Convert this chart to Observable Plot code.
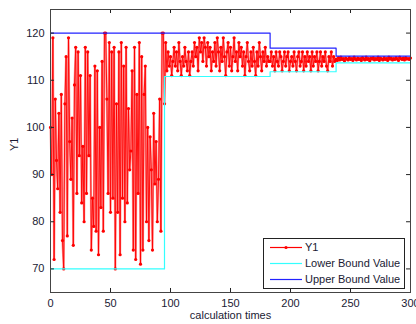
<!DOCTYPE html>
<html>
<head>
<meta charset="utf-8">
<script src="https://cdn.jsdelivr.net/npm/d3@7"></script>
<script src="https://cdn.jsdelivr.net/npm/@observablehq/plot@0.6"></script>
<style>
  html, body { margin: 0; padding: 0; background: #fff; }
  #chart { width: 416px; height: 324px; }
</style>
</head>
<body>
<div id="chart"></div>
<script>
// ---- Data ----
const seg1 = [ // t = 0..95
  100,90,119,72,106,93,87,103,82,107,
  76,70,105,115,77,119,97,89,102,75,
  109,117,86,116,94,111,84,96,80,117,
  86,116,94,111,74,85,79,113,78,112,
  73,100,83,114,78,120,120,106,86,118,
  82,116,85,117,70,105,82,116,73,118,
  85,113,80,117,84,104,91,95,112,74,
  117,72,107,86,118,71,115,74,107,113,
  80,100,76,98,91,74,103,88,97,80,
  89,106,78,120,120,105
];
const seg2 = [ // t = 96..182
  118,112,116,113,115,111,114,117,113,116,
  112,118,114,111,115,113,117,114,112,116,
  111,114,116,113,118,115,117,112,119,116,
  118,114,119,117,113,118,115,117,112,116,
  114,118,113,119,116,112,117,114,119,115,
  111,116,118,113,117,112,115,119,114,116,
  112,118,115,117,113,116,111,115,118,114,
  112,116,113,117,114,111,116,113,118,115,
  112,116,114,117,113,115,114
];
const seg3 = [ // t = 183..237
  114,116,113,115,112,116,114,113,116,115,
  112,114,116,113,115,116,112,114,115,113,
  116,114,112,115,116,113,114,116,112,115,
  113,116,114,115,112,116,113,115,114,116,
  112,114,116,113,115,114,116,113,112,115,
  114,116,113,115,114
];
const seg4 = [ // t = 238..300
  114.5,114.2,114.8,114.3,114.9,114.4,114.6,114.1,114.7,114.5,
  114.3,114.8,114.4,114.6,114.2,114.9,114.5,114.3,114.7,114.4,
  114.6,114.2,114.8,114.5,114.3,114.9,114.4,114.6,114.1,114.7,
  114.5,114.8,114.3,114.6,114.4,114.9,114.2,114.7,114.5,114.3,
  114.8,114.4,114.6,114.2,114.9,114.5,114.7,114.3,114.6,114.4,
  114.8,114.5,114.2,114.9,114.6,114.4,114.7,114.3,114.8,114.5,
  114.6,114.4,114.7
];
const lowerT = [0, 95, 183, 238, 300];
const lowerV = [70, 110.8, 111.8, 113.7, 113.7];
const upperT = [0, 183, 238, 300];
const upperV = [120, 116.8, 115.1, 115.1];
const xTicks = [0, 50, 100, 150, 200, 250, 300];
const yTicks = [70, 80, 90, 100, 110, 120];
const seriesNames = ["Y1", "Lower Bound Value", "Upper Bound Value"];
const xLabel = "calculation times";
const yLabel = "Y1";

// ---- Build tables ----
const y1 = [...seg1, ...seg2, ...seg3, ...seg4].map((v, i) => ({t: i, v}));
const lower = lowerT.map((t, i) => ({t, v: lowerV[i]}));
const upper = upperT.map((t, i) => ({t, v: upperV[i]}));

const font = "'Liberation Sans', Arial, sans-serif";
const tickLenY = 0.85;  // data units (~4px)
const tickLenX = 3.3;

const chart = Plot.plot({
  width: 416,
  height: 324,
  marginLeft: 50,
  marginRight: 6,
  marginTop: 9,
  marginBottom: 32,
  style: {fontFamily: font, fontSize: "11px", color: "#222", background: "#fff"},
  x: {domain: [0, 300]},
  y: {domain: [65, 125]},
  marks: [
    Plot.line(y1, {x: "t", y: "v", stroke: "#ff9a9a", strokeWidth: 2.2}),
    Plot.line(y1, {x: "t", y: "v", stroke: "#ff0000", strokeWidth: 0.9}),
    Plot.dot(y1, {x: "t", y: "v", r: 1.6, fill: "#ff0000", stroke: "none"}),
    Plot.line(lower, {x: "t", y: "v", curve: "step-after", stroke: "#33ffff", strokeWidth: 1.2}),
    Plot.line(upper, {x: "t", y: "v", curve: "step-after", stroke: "#2222ff", strokeWidth: 1.2}),
    Plot.ruleX(xTicks, {x: d => d, y1: 65, y2: 65 + tickLenY, stroke: "#222"}),
    Plot.ruleX(xTicks, {x: d => d, y1: 125, y2: 125 - tickLenY, stroke: "#222"}),
    Plot.ruleY(yTicks, {y: d => d, x1: 0, x2: tickLenX, stroke: "#222"}),
    Plot.ruleY(yTicks, {y: d => d, x1: 300, x2: 300 - tickLenX, stroke: "#222"}),
    Plot.frame({stroke: "#444", strokeWidth: 1}),
    Plot.axisX({ticks: xTicks, tickSize: 0, tickPadding: 7, label: null, fill: "#1a1a33"}),
    Plot.axisY({ticks: yTicks, tickSize: 0, tickPadding: 6, label: null, fill: "#1a1a33"}),
    Plot.text([xLabel], {frameAnchor: "bottom", dy: 26, fill: "#1a1a33", fontSize: 11}),
    Plot.text([yLabel], {frameAnchor: "left", dx: -36, rotate: -90, fill: "#1a1a33", fontSize: 11})
  ]
});

document.getElementById("chart").appendChild(chart);

// ---- Legend (inside the axes, bottom right) ----
const svg = d3.select(chart);
const lg = svg.append("g").attr("font-family", font).attr("font-size", 11)
  .attr("text-anchor", "start");
lg.append("rect").attr("x", 263.5).attr("y", 238.5).attr("width", 141).attr("height", 50)
  .attr("fill", "#fff").attr("stroke", "#222");
const colors = ["#ff0000", "#33ffff", "#2222ff"];
seriesNames.forEach((name, i) => {
  const yy = 247.5 + i * 16;
  lg.append("line").attr("x1", 270).attr("x2", 302).attr("y1", yy).attr("y2", yy)
    .attr("stroke", colors[i]).attr("stroke-width", 1.2);
  if (i === 0) lg.append("circle").attr("cx", 286).attr("cy", yy).attr("r", 1.6).attr("fill", "#ff0000");
  lg.append("text").attr("x", 305).attr("y", yy).attr("dy", "0.35em")
    .attr("text-anchor", "start").attr("fill", "#1a1a33").text(name);
});
</script>
</body>
</html>
